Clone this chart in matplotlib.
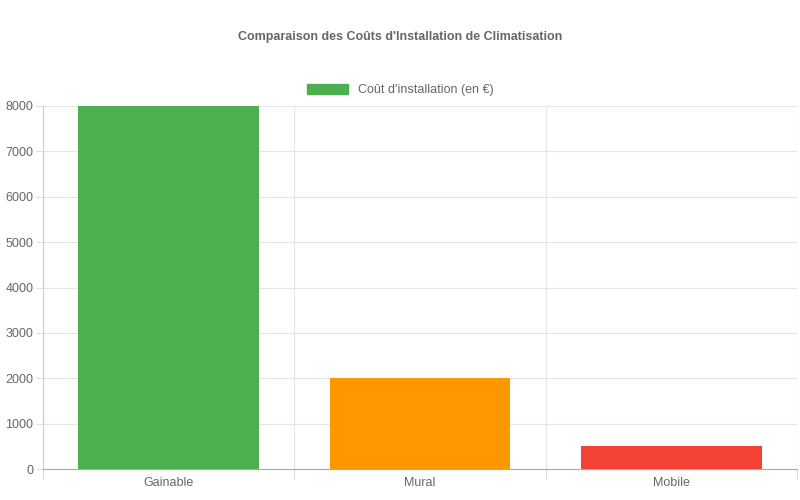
import matplotlib
matplotlib.use("Agg")
import matplotlib.pyplot as plt
from matplotlib.patches import Patch

categories = ["Gainable", "Mural", "Mobile"]
values = [8000, 2000, 500]
colors = ["#4CAF50", "#FF9800", "#F44336"]
yticks = [0, 1000, 2000, 3000, 4000, 5000, 6000, 7000, 8000]

plt.rcParams['font.family'] = ['Liberation Sans', 'DejaVu Sans']
fig = plt.figure(figsize=(8, 5), dpi=100)
ax = fig.add_axes([0.05375, 0.062, 0.9425, 0.726])
x = list(range(len(categories)))
ax.bar(x, values, width=0.72, color=colors, zorder=3)
ax.set_xlim(-0.5, len(categories) - 0.5)
ax.set_ylim(0, 8000)
ax.set_yticks(yticks)
ax.set_yticklabels([str(v) for v in yticks], fontsize=9, color="#666666")
ax.set_xticks(x)
ax.set_xticklabels(categories, fontsize=9, color="#666666")
ax.tick_params(axis='x', length=0, pad=6)
ax.tick_params(axis='y', length=5, color="#dddddd", pad=2)
for b in [-0.5, 0.5, 1.5, 2.5]:
    ax.axvline(b, color="#e5e5e5", lw=0.8, zorder=0)
    ax.plot([b, b], [0, -0.028], transform=ax.get_xaxis_transform(), clip_on=False, color="#dddddd", lw=0.8)
ax.grid(axis='y', color="#e5e5e5", lw=0.8, zorder=0)
for s in ['top', 'right']:
    ax.spines[s].set_visible(False)
ax.spines['left'].set_color("#cccccc")
ax.spines['bottom'].set_color("#aaaaaa")
fig.text(0.5, 0.926, "Comparaison des Coûts d'Installation de Climatisation", ha='center', va='center',
         fontsize=9, fontweight='bold', color="#666666")
fig.legend(handles=[Patch(color="#4CAF50", label="Coût d'installation (en €)")], loc='center',
           bbox_to_anchor=(0.5, 0.82), frameon=False, fontsize=9, labelcolor="#666666",
           handlelength=3.3, handleheight=0.9)
fig.savefig("out.png")
